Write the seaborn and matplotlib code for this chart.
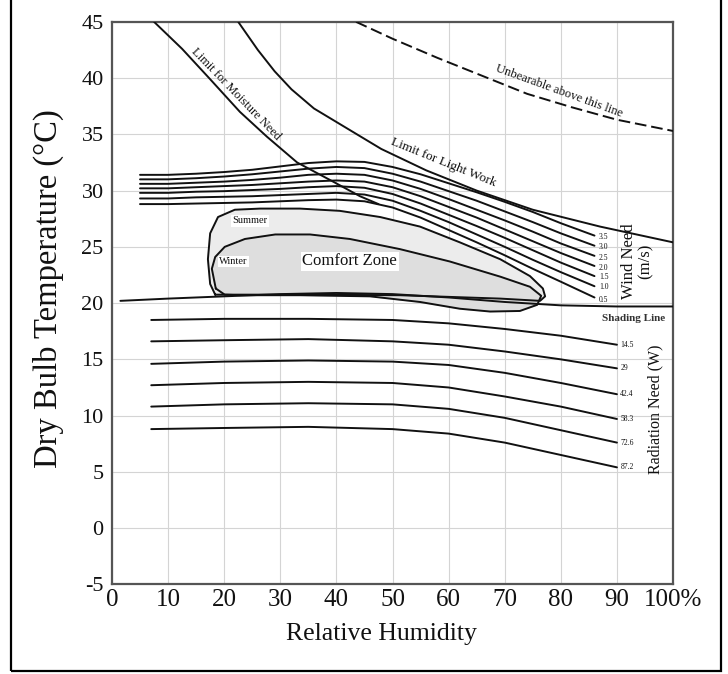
import numpy as np
import pandas as pd
import matplotlib
matplotlib.use('Agg')
import matplotlib.pyplot as plt
import seaborn as sns
from matplotlib.patches import Rectangle

# Bioclimatic chart values (RH in %, temperature in degC)

# Wind need lines (m/s), top to bottom
wind_rh = [5, 10, 15, 20, 25, 30, 35, 40, 45, 50, 55, 60, 65, 70, 75, 80, 86]
wind_labels = ['3.5', '3.0', '2.5', '2.0', '1.5', '1.0', '0.5']
wind_35 = [31.4, 31.4, 31.5, 31.65, 31.85, 32.15, 32.45, 32.6, 32.55, 32.1, 31.45, 30.65, 29.85, 29.0, 28.1, 27.1, 26.0]
wind_30 = [31.0, 31.0, 31.1, 31.25, 31.45, 31.7, 31.95, 32.1, 32.0, 31.5, 30.8, 29.95, 29.1, 28.15, 27.2, 26.2, 25.1]
wind_25 = [30.6, 30.6, 30.7, 30.8, 30.95, 31.15, 31.4, 31.5, 31.4, 30.9, 30.15, 29.25, 28.3, 27.35, 26.35, 25.3, 24.2]
wind_20 = [30.2, 30.2, 30.3, 30.4, 30.5, 30.65, 30.8, 30.9, 30.8, 30.3, 29.5, 28.55, 27.6, 26.55, 25.5, 24.45, 23.3]
wind_15 = [29.8, 29.8, 29.9, 29.95, 30.05, 30.15, 30.3, 30.4, 30.25, 29.7, 28.85, 27.85, 26.85, 25.8, 24.7, 23.6, 22.4]
wind_10 = [29.3, 29.3, 29.4, 29.45, 29.5, 29.6, 29.7, 29.8, 29.65, 29.1, 28.2, 27.2, 26.1, 25.0, 23.85, 22.75, 21.5]
wind_05 = [28.8, 28.8, 28.85, 28.9, 28.95, 29.05, 29.15, 29.2, 29.05, 28.5, 27.6, 26.5, 25.4, 24.25, 23.05, 21.9, 20.5]
wind_label_t = [25.9, 25.0, 24.0, 23.1, 22.3, 21.4, 20.3]

# Radiation need lines (W)
rad_rh = [7, 20, 35, 50, 60, 70, 80, 90]
rad_labels = ['14.5', '29', '42.4', '58.3', '72.6', '87.2']
rad_145 = [18.5, 18.6, 18.6, 18.5, 18.2, 17.7, 17.1, 16.3]
rad_29 = [16.6, 16.7, 16.8, 16.6, 16.3, 15.7, 15.0, 14.2]
rad_424 = [14.6, 14.8, 14.9, 14.8, 14.5, 13.8, 12.9, 11.9]
rad_583 = [12.7, 12.9, 13.0, 12.9, 12.5, 11.7, 10.8, 9.7]
rad_726 = [10.8, 11.0, 11.1, 11.0, 10.6, 9.8, 8.7, 7.6]
rad_872 = [8.8, 8.9, 9.0, 8.8, 8.4, 7.6, 6.5, 5.4]

# Shading line
shade_rh = [1.5, 10, 20, 30, 40, 50, 60, 70, 80, 90, 100]
shade_t = [20.2, 20.4, 20.6, 20.8, 20.9, 20.8, 20.5, 20.1, 19.8, 19.7, 19.7]

# Limits
moist_rh = [7.5, 12.5, 17.5, 22.8, 27.6, 33, 39.4, 44.2, 47.5]
moist_t = [45, 42.6, 39.9, 37.0, 34.8, 32.5, 30.8, 29.5, 28.8]
work_rh = [22.5, 26, 29, 32, 36, 42, 48, 56, 65, 75, 87, 100]
work_t = [45, 42.5, 40.6, 39.0, 37.3, 35.5, 33.7, 31.8, 30.0, 28.3, 26.8, 25.4]
unbear_rh = [43.5, 50, 58, 66, 74, 82, 90, 100]
unbear_t = [45, 43.5, 41.8, 40.2, 38.6, 37.4, 36.3, 35.3]

# Comfort zone outlines (closed)
summer_rh = [18.4, 17.5, 17.1, 17.5, 18.9, 21.9, 26.4, 33.5, 40.6, 47.8, 54.9, 62.0,
             69.2, 74.5, 76.8, 77.2, 76.3, 69.2, 51.3, 33.5, 21.0, 18.4]
summer_t = [20.75, 21.7, 23.9, 26.2, 27.65, 28.3, 28.4, 28.4, 28.2, 27.65, 26.8, 25.4,
            23.9, 22.4, 21.3, 20.6, 20.2, 20.4, 20.7, 20.75, 20.75, 20.75]
winter_rh = [18.5, 17.8, 18.4, 20.1, 23.7, 29.1, 35.3, 42.4, 51.3, 60.2, 69.2, 74.5,
             76.5, 75.8, 72.7, 67.4, 62.0, 54.9, 46.0, 33.5, 22.8, 20.1, 18.5]
winter_t = [21.3, 23.05, 24.1, 25.0, 25.7, 26.1, 26.1, 25.7, 24.8, 23.7, 22.35, 21.45,
            20.65, 19.85, 19.3, 19.25, 19.5, 20.1, 20.6, 20.7, 20.7, 20.75, 21.3]

x_ticks = [0, 10, 20, 30, 40, 50, 60, 70, 80, 90, 100]
x_ticklabels = ['0', '10', '20', '30', '40', '50', '60', '70', '80', '90', '100%']
y_ticks = [-5, 0, 5, 10, 15, 20, 25, 30, 35, 40, 45]

sns.set_theme(style='white')
plt.rcParams['font.family'] = ['Liberation Serif', 'DejaVu Serif']
plt.rcParams['axes.unicode_minus'] = False

fig = plt.figure(figsize=(7.28, 6.74), dpi=100)
ax = fig.add_axes([0.1538, 0.133, 0.7707, 0.8346])

lw = 1.4
ink = '#111111'


def curve(x, y, **kw):
    sns.lineplot(x=x, y=y, ax=ax, color=ink, lw=kw.pop('lw', lw), sort=False,
                 estimator=None, errorbar=None, zorder=3, **kw)


# comfort zone fills
ax.fill(summer_rh, summer_t, color='#ececec', zorder=1)
ax.fill(winter_rh, winter_t, color='#dedede', zorder=1)
curve(summer_rh, summer_t)
curve(winter_rh, winter_t)

for vals in [wind_35, wind_30, wind_25, wind_20, wind_15, wind_10, wind_05]:
    curve(wind_rh, vals)
for vals in [rad_145, rad_29, rad_424, rad_583, rad_726, rad_872]:
    curve(rad_rh, vals)

curve(shade_rh, shade_t)
curve(moist_rh, moist_t)
curve(work_rh, work_t)
curve(unbear_rh, unbear_t, linestyle=(0, (6, 2.5)))

# labels on the chart
ax.text(22.0, 38.6, 'Limit for Moisture Need', rotation=-46, fontsize=9,
        ha='center', va='center', color=ink)
ax.text(59.0, 32.5, 'Limit for Light Work', rotation=-22, fontsize=9.5,
        ha='center', va='center', color=ink)
ax.text(79.7, 38.8, 'Unbearable above this line', rotation=-20, fontsize=9,
        ha='center', va='center', color=ink)
box = dict(facecolor='white', edgecolor='none', pad=1.0)
ax.text(42.4, 23.7, 'Comfort Zone', fontsize=12, ha='center', va='center',
        color=ink, bbox=box, zorder=4)
ax.text(24.6, 27.3, 'Summer', fontsize=7.5, ha='center', va='center',
        color=ink, bbox=box, zorder=4)
ax.text(21.7, 23.7, 'Winter', fontsize=7.5, ha='center', va='center',
        color=ink, bbox=box, zorder=4)

for lab, t in zip(wind_labels, wind_label_t):
    ax.text(86.8, t, lab, fontsize=5.5, ha='left', va='center', color=ink)
for lab, vals in zip(rad_labels, [rad_145, rad_29, rad_424, rad_583, rad_726, rad_872]):
    ax.text(90.6, vals[-1], lab, fontsize=5.5, ha='left', va='center', color=ink)

ax.text(93.7, 23.7, 'Wind Need\n(m/s)', rotation=90, fontsize=12, ha='center',
        va='center', multialignment='center', linespacing=1.05, color=ink)
ax.text(96.9, 10.6, 'Radiation Need (W)', rotation=90, fontsize=11.5, ha='center',
        va='center', color=ink)
ax.text(87.3, 18.6, 'Shading Line', fontsize=8, fontweight='bold', ha='left',
        va='center', color='#333333', clip_on=True)

ax.set_xlim(0, 100)
ax.set_ylim(-5, 45)
ax.set_xticks(x_ticks)
ax.set_xticklabels(x_ticklabels)
ax.set_yticks(y_ticks)
ax.grid(True, color='#d4d4d4', lw=0.8)
ax.tick_params(axis='both', length=0, colors=ink)
ax.tick_params(axis='x', pad=3, labelsize=18)
ax.tick_params(axis='y', pad=6, labelsize=16)
for sp in ax.spines.values():
    sp.set_color('#555555')
    sp.set_linewidth(1.6)
ax.set_xlabel('Relative Humidity', fontsize=18.5, color=ink)
ax.set_ylabel('Dry Bulb Temperature (°C)', fontsize=23.5, color=ink)
ax.xaxis.set_label_coords(0.481, -0.069)
ax.yaxis.set_label_coords(-0.086, 0.525)

# outer frame of the picture
fig.add_artist(Rectangle((11 / 728, 3 / 674), 710 / 728, 1.0, transform=fig.transFigure,
                         fill=False, edgecolor='black', lw=1.6, clip_on=False))

fig.savefig('out.png', dpi=100)
